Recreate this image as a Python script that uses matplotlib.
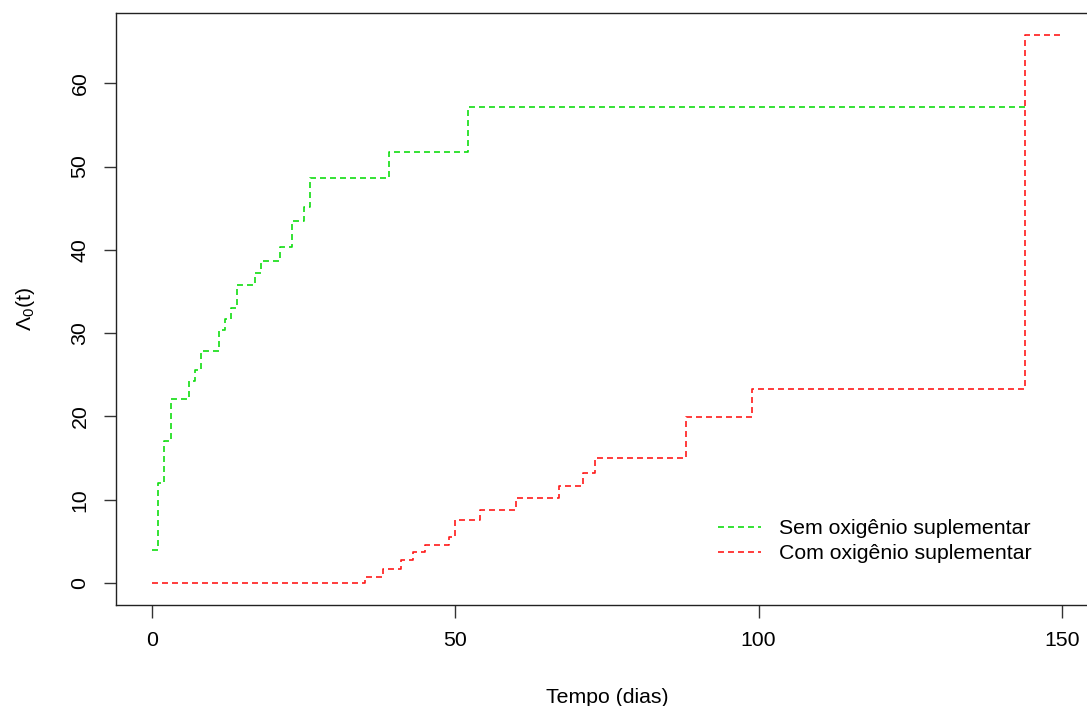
import matplotlib
matplotlib.use("Agg")
import matplotlib.pyplot as plt

# tempos (dias) e valores do risco acumulado
tempo_sem = [0, 1, 2, 3, 6, 7, 8, 11, 12, 13, 14, 17, 18, 21, 23, 25, 26, 39, 52, 144]
risco_sem = [4.0, 12.0, 17.1, 22.1, 24.3, 25.6, 27.9, 30.4, 31.7, 33.0, 35.8, 37.2,
             38.7, 40.3, 43.5, 45.1, 48.6, 51.7, 57.1, 57.1]

tempo_com = [0, 35, 38, 41, 43, 45, 49, 50, 54, 60, 67, 71, 73, 88, 99, 144, 150]
risco_com = [0.0, 0.76, 1.72, 2.71, 3.70, 4.63, 5.55, 7.62, 8.73, 10.2, 11.6, 13.2,
             15.0, 19.9, 23.3, 65.8, 65.8]

rotulos = ["Sem oxigênio suplementar", "Com oxigênio suplementar"]
xticks = [0, 50, 100, 150]
yticks = [0, 10, 20, 30, 40, 50, 60]

plt.rcParams['font.family'] = ['Liberation Sans', 'DejaVu Sans']
plt.rcParams['mathtext.fontset'] = 'custom'
plt.rcParams['mathtext.rm'] = 'Liberation Sans'
plt.rcParams['mathtext.it'] = 'Liberation Sans'
plt.rcParams['lines.scale_dashes'] = False

fs = 15.3
fig = plt.figure(figsize=(10.87, 7.06), dpi=100)
ax = fig.add_axes([116 / 1087, 1 - 605 / 706, (1098 - 116) / 1087, (605 - 13) / 706])

ax.step(tempo_sem, risco_sem, where='post', color='#11DD11', lw=1.2,
        dashes=(4.3, 2.9), label=rotulos[0])
ax.step(tempo_com, risco_com, where='post', color='#FF1A1A', lw=1.2,
        dashes=(4.3, 2.9), label=rotulos[1])

ax.set_xlim(-6, 156)
ax.set_ylim(-0.04 * 65.8, 1.04 * 65.8)
ax.set_xticks(xticks)
ax.set_yticks(yticks)
ax.tick_params(length=9, width=1.0, color='#333333', labelsize=fs, pad=10)
for lab in ax.get_yticklabels():
    lab.set_rotation(90)
    lab.set_va('center')
for s in ax.spines.values():
    s.set_linewidth(1.0)
    s.set_color('#222222')

ax.set_xlabel("Tempo (dias)", fontsize=fs, labelpad=27)
ax.set_ylabel(r"$\Lambda_0(t)$", fontsize=fs, labelpad=24.5)

ax.legend(loc='upper left', bbox_to_anchor=(718 / 1087, 1 - 519 / 706),
          bbox_transform=fig.transFigure, frameon=False, fontsize=fs,
          handlelength=2.0, handletextpad=0.85, borderpad=0, borderaxespad=0,
          labelspacing=0.3)

fig.savefig("out.png", dpi=100)
